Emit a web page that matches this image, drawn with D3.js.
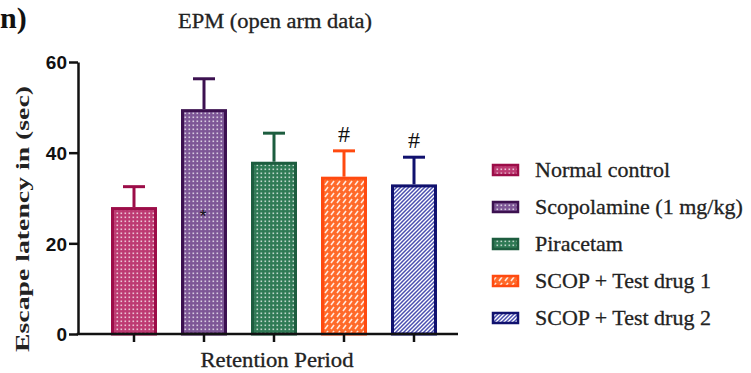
<!DOCTYPE html>
<html><head><meta charset="utf-8">
<script src="https://cdn.jsdelivr.net/npm/d3@7"></script>
<style>body{margin:0;background:#fff}svg{display:block}</style>
</head><body>
<svg id="c" width="751" height="373"></svg>
<script>
const groups = ["Normal control","Scopolamine (1 mg/kg)","Piracetam","SCOP + Test drug 1","SCOP + Test drug 2"];
const means = [28, 49.6, 38, 34.7, 33];
const sems = [4.5, 6.7, 6.3, 5.7, 6.0];
const marks = ["", "*", "", "#", "#"];
const yTicks = [0, 20, 40, 60];
const strokeColors = ["#9c0d48","#3c1150","#1d5d3f","#ff4a10","#10116e"];
const fillColors = ["#bd3a72","#7d5696","#2f7a55","#ff6a2a","#4a4fb0"];
const patternKinds = ["dots","dots","dots","dash","stripe"];

const svg = d3.select("#c");
const defs = svg.append("defs");
groups.forEach((g,i)=>{
  const p = defs.append("pattern").attr("id","p"+i).attr("patternUnits","userSpaceOnUse")
    .attr("width",4).attr("height",4);
  if (patternKinds[i]==="dots") {
    p.append("rect").attr("width",4).attr("height",4).attr("fill",fillColors[i]);
    p.append("rect").attr("x",0.5).attr("y",0.5).attr("width",1.6).attr("height",1.6).attr("fill","#fff").attr("opacity",0.7);
  } else if (patternKinds[i]==="dash") {
    p.attr("width",6).attr("height",6);
    p.append("rect").attr("width",6).attr("height",6).attr("fill",fillColors[i]);
    p.append("path").attr("d","M1,5 L4,1").attr("stroke","#fff").attr("stroke-width",1.6).attr("opacity",0.85);
  } else {
    p.attr("width",4).attr("height",4);
    p.append("rect").attr("width",4).attr("height",4).attr("fill","#fff");
    p.append("path").attr("d","M-1,1 L1,-1 M0,4 L4,0 M3,5 L5,3").attr("stroke",fillColors[i]).attr("stroke-width",1.5);
  }
});

const y = d3.scaleLinear().domain([0,60]).range([334,62]);
const x = d3.scaleBand().domain(groups).range([99,449]).paddingInner(0.343).paddingOuter(0.1715);
const bw = x.bandwidth();

// bars
const bars = svg.append("g");
groups.forEach((g,i)=>{
  const cx = x(g)+bw/2;
  bars.append("line").attr("x1",cx).attr("x2",cx).attr("y1",y(means[i])).attr("y2",y(means[i]+sems[i]))
    .attr("stroke",strokeColors[i]).attr("stroke-width",3);
  bars.append("line").attr("x1",cx-11).attr("x2",cx+11).attr("y1",y(means[i]+sems[i])).attr("y2",y(means[i]+sems[i]))
    .attr("stroke",strokeColors[i]).attr("stroke-width",3);
  bars.append("rect").attr("x",x(g)+1.5).attr("y",y(means[i])+1.5).attr("width",bw-3).attr("height",y(0)-y(means[i])-1.5)
    .attr("fill","url(#p"+i+")").attr("stroke",strokeColors[i]).attr("stroke-width",3);
});

// markers
groups.forEach((g,i)=>{
  const cx = x(g)+bw/2;
  if (marks[i]==="#") {
    svg.append("text").attr("x",cx).attr("y",y(means[i]+sems[i])-9).attr("text-anchor","middle")
      .attr("font-family","Liberation Serif").attr("font-size",24).attr("fill","#111").text("#");
  } else if (marks[i]==="*") {
    svg.append("text").attr("x",cx-1).attr("y",y(means[i]) + 113).attr("text-anchor","middle")
      .attr("font-family","Liberation Sans").attr("font-size",17).attr("fill","#111").text("*");
  }
});

// y axis
const yAxis = d3.axisLeft(y).tickValues(yTicks).tickSize(9).tickSizeOuter(0);
const ya = svg.append("g").attr("transform","translate(78,0)").call(yAxis);
ya.select(".domain").attr("stroke","#111").attr("stroke-width",2.5);
ya.selectAll(".tick line").attr("stroke","#111").attr("stroke-width",2.5);
ya.selectAll(".tick text").attr("font-family","Liberation Sans").attr("font-weight","bold")
  .attr("font-size",19).attr("fill","#111").attr("x",-11).attr("dy","0.36em");

// x axis
svg.append("line").attr("x1",76.75).attr("x2",458).attr("y1",y(0)).attr("y2",y(0)).attr("stroke","#111").attr("stroke-width",2.5);
const xAxis = d3.axisBottom(x).tickSize(8).tickSizeOuter(0).tickFormat("");
const xa = svg.append("g").attr("transform",`translate(0,${y(0)})`).call(xAxis);
xa.select(".domain").remove();
xa.selectAll(".tick line").attr("stroke","#111").attr("stroke-width",2.5);

// labels
svg.append("text").attr("x",277).attr("y",367).attr("text-anchor","middle")
  .attr("font-family","Liberation Serif").attr("font-size",20).attr("fill","#222")
  .attr("stroke","#222").attr("stroke-width",0.3)
  .attr("textLength",153).attr("lengthAdjust","spacingAndGlyphs").text("Retention Period");
svg.append("text").attr("transform","translate(29,219) rotate(-90)").attr("text-anchor","middle")
  .attr("font-family","Liberation Serif").attr("font-weight","bold").attr("font-size",18).attr("fill","#222")
  .attr("textLength",266).attr("lengthAdjust","spacingAndGlyphs").text("Escape latency in (sec)");
svg.append("text").attr("x",275).attr("y",28).attr("text-anchor","middle")
  .attr("font-family","Liberation Serif").attr("font-size",20).attr("fill","#222")
  .attr("stroke","#222").attr("stroke-width",0.3)
  .attr("textLength",194).attr("lengthAdjust","spacingAndGlyphs").text("EPM (open arm data)");
svg.append("text").attr("x",0).attr("y",28)
  .attr("font-family","Liberation Serif").attr("font-weight","bold").attr("font-size",30).attr("fill","#111").text("n)");

// legend
const lg = svg.append("g");
groups.forEach((g,i)=>{
  const cy = 170 + i*37;
  lg.append("rect").attr("x",493).attr("y",cy-5).attr("width",25).attr("height",10)
    .attr("fill","url(#p"+i+")").attr("stroke",strokeColors[i]).attr("stroke-width",2.5);
  lg.append("text").attr("x",535).attr("y",cy+7).attr("font-family","Liberation Serif")
    .attr("font-size",22).attr("fill","#222").attr("stroke","#222").attr("stroke-width",0.3).text(g);
});
</script>
</body></html>
